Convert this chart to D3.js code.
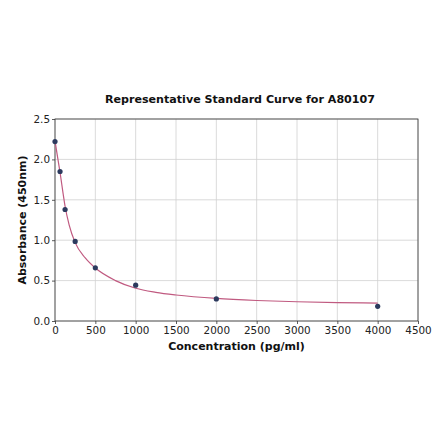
<!DOCTYPE html>
<html>
<head>
<meta charset="utf-8">
<script src="https://cdn.jsdelivr.net/npm/d3@7"></script>
<style>
  body { margin: 0; background: #fff; }
  text { font-family: "DejaVu Sans", sans-serif; }
</style>
</head>
<body>
<div id="chart"></div>
<script>
// Standard points (concentration in pg/ml, absorbance at 450nm)
var concentrations = [0, 62.5, 125, 250, 500, 1000, 2000, 4000];
var absorbances = [2.22, 1.85, 1.38, 0.985, 0.658, 0.443, 0.273, 0.182];

// Fitted curve
var curveX = [0, 30, 62.5, 100, 125, 175, 250, 375, 500, 750, 1000, 1250, 1500, 2000, 2500, 3000, 3500, 4000];
var curveY = [2.23, 2.04, 1.84, 1.58, 1.42, 1.19, 0.97, 0.78, 0.655, 0.50, 0.405, 0.355, 0.322, 0.279, 0.254, 0.238, 0.228, 0.221];

// Tick labels
var xTicks = [0, 500, 1000, 1500, 2000, 2500, 3000, 3500, 4000, 4500];
var yTicks = [0.0, 0.5, 1.0, 1.5, 2.0, 2.5];

var svgWidth = 440;
var svgHeight = 441;

var margin = { top: 119, right: 22, bottom: 120, left: 55 };
var width = 418 - margin.left;
var height = 321 - margin.top;

var svg = d3.select("#chart")
  .append("svg")
  .attr("width", svgWidth)
  .attr("height", svgHeight);

var chartGroup = svg.append("g")
  .attr("transform", `translate(${margin.left}, ${margin.top})`);

var x = d3.scaleLinear().domain([0, 4500]).range([0, width]);
var y = d3.scaleLinear().domain([0, 2.5]).range([height, 0]);

// Grid lines
chartGroup.append("g")
  .selectAll("line")
  .data(xTicks)
  .enter()
  .append("line")
  .attr("x1", d => x(d)).attr("x2", d => x(d))
  .attr("y1", 0).attr("y2", height)
  .attr("stroke", "#d0d0d0")
  .attr("stroke-width", 0.8);

chartGroup.append("g")
  .selectAll("line")
  .data(yTicks)
  .enter()
  .append("line")
  .attr("x1", 0).attr("x2", width)
  .attr("y1", d => y(d)).attr("y2", d => y(d))
  .attr("stroke", "#d0d0d0")
  .attr("stroke-width", 0.8);

// Axes
var bottomAxis = d3.axisBottom(x).tickValues(xTicks).tickSize(3).tickFormat(d3.format("d"));
var leftAxis = d3.axisLeft(y).tickValues(yTicks).tickSize(3).tickFormat(d3.format(".1f"));

var xAxis = chartGroup.append("g")
  .attr("transform", `translate(0, ${height})`)
  .call(bottomAxis);

var yAxis = chartGroup.append("g")
  .call(leftAxis);

[xAxis, yAxis].forEach(function(ax) {
  ax.select(".domain").remove();
  ax.selectAll("line").attr("stroke", "#333").attr("stroke-width", 0.8);
  ax.selectAll("text")
    .attr("font-size", "10.4px")
    .attr("fill", "#222")
    .style("font-family", "DejaVu Sans, sans-serif");
});
xAxis.selectAll("text").attr("dy", "0.9em").attr("y", 4);
yAxis.selectAll("text").attr("x", -5);

// Frame
chartGroup.append("rect")
  .attr("x", 0).attr("y", 0)
  .attr("width", width).attr("height", height)
  .attr("fill", "none")
  .attr("stroke", "#333")
  .attr("stroke-width", 0.8);

// Fitted curve
var line = d3.line()
  .x(d => x(d[0]))
  .y(d => y(d[1]))
  .curve(d3.curveMonotoneX);

chartGroup.append("path")
  .datum(curveX.map((c, i) => [c, curveY[i]]))
  .attr("d", line)
  .attr("fill", "none")
  .attr("stroke", "#c05a80")
  .attr("stroke-width", 1.2);

// Points
chartGroup.selectAll("circle")
  .data(concentrations.map((c, i) => [c, absorbances[i]]))
  .enter()
  .append("circle")
  .attr("cx", d => x(d[0]))
  .attr("cy", d => y(d[1]))
  .attr("r", 2.6)
  .attr("fill", "#2c3a5e");

// Title
svg.append("text")
  .attr("x", 240)
  .attr("y", 103)
  .attr("text-anchor", "middle")
  .attr("font-size", "11.1px")
  .attr("font-weight", "bold")
  .attr("fill", "#111")
  .text("Representative Standard Curve for A80107");

// Axis labels
svg.append("text")
  .attr("x", margin.left + width / 2)
  .attr("y", 350)
  .attr("text-anchor", "middle")
  .attr("font-size", "11px")
  .attr("font-weight", "bold")
  .attr("fill", "#111")
  .text("Concentration (pg/ml)");

svg.append("text")
  .attr("transform", `translate(26, ${margin.top + height / 2}) rotate(-90)`)
  .attr("text-anchor", "middle")
  .attr("font-size", "11px")
  .attr("font-weight", "bold")
  .attr("fill", "#111")
  .text("Absorbance (450nm)");
</script>
</body>
</html>
